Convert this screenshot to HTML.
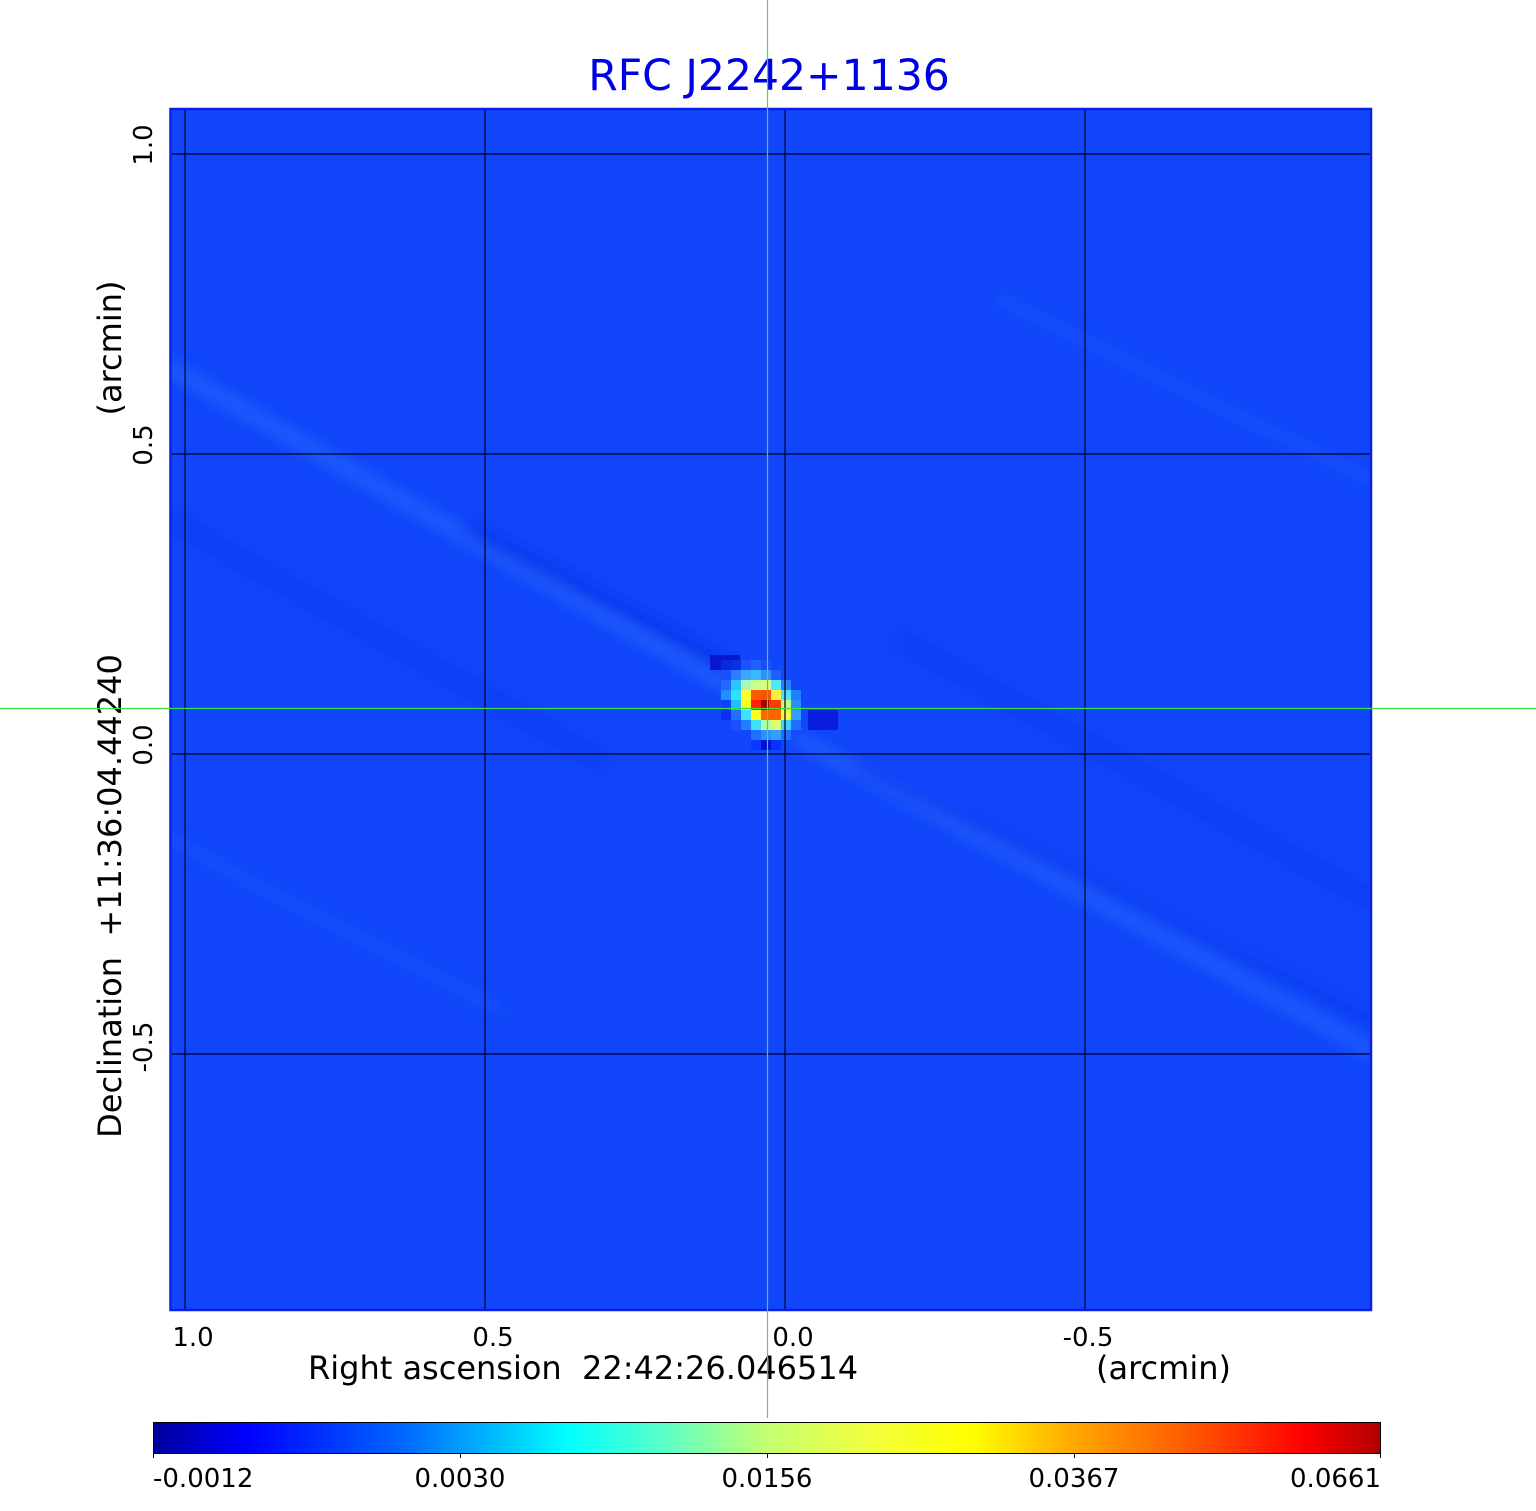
<!DOCTYPE html>
<html>
<head>
<meta charset="utf-8">
<style>
html,body{margin:0;padding:0;background:#fff;}
svg{display:block;}
text{font-family:"DejaVu Sans","Liberation Sans",sans-serif;}
</style>
</head>
<body>
<svg width="1536" height="1511" viewBox="0 0 1536 1511" xmlns="http://www.w3.org/2000/svg">
<defs>
<clipPath id="pc"><rect x="170" y="109" width="1201" height="1201"/></clipPath>
<filter id="bl" x="-10%" y="-10%" width="120%" height="120%"><feGaussianBlur stdDeviation="7"/></filter>
<linearGradient id="cb" x1="0" y1="0" x2="1" y2="0">
<stop offset="0" stop-color="#00009c"/>
<stop offset="0.077" stop-color="#0000ff"/>
<stop offset="0.2" stop-color="#0064ff"/>
<stop offset="0.338" stop-color="#00ffff"/>
<stop offset="0.42" stop-color="#60ffc4"/>
<stop offset="0.5" stop-color="#c4ff70"/>
<stop offset="0.58" stop-color="#f0ff40"/>
<stop offset="0.667" stop-color="#ffff00"/>
<stop offset="0.75" stop-color="#ffa800"/>
<stop offset="0.85" stop-color="#ff5400"/>
<stop offset="0.937" stop-color="#ff0000"/>
<stop offset="1" stop-color="#b00000"/>
</linearGradient>
</defs>

<!-- title -->
<text x="769" y="90" font-size="42.5" fill="#0000e6" text-anchor="middle">RFC J2242+1136</text>

<!-- image -->
<rect x="170" y="109" width="1201" height="1201" fill="rgb(17,70,250)"/>
<g clip-path="url(#pc)">
  <!-- faint sidelobe streaks (soft) -->
  <g stroke-linecap="round" fill="none" filter="url(#bl)">
    <line x1="170" y1="368" x2="735" y2="690" stroke="#2c70ff" stroke-width="16" opacity="0.5"/>
    <line x1="470" y1="530" x2="730" y2="668" stroke="#0a26e0" stroke-width="14" opacity="0.5"/>
    <line x1="800" y1="740" x2="1371" y2="1050" stroke="#2c70ff" stroke-width="16" opacity="0.45"/>
    <line x1="860" y1="770" x2="1371" y2="1020" stroke="#0a28e0" stroke-width="12" opacity="0.3"/>
    <line x1="170" y1="520" x2="600" y2="760" stroke="#0a28e0" stroke-width="14" opacity="0.25"/>
    <line x1="900" y1="640" x2="1371" y2="900" stroke="#0a28e0" stroke-width="14" opacity="0.25"/>
    <line x1="170" y1="840" x2="500" y2="1010" stroke="#2c70ff" stroke-width="14" opacity="0.2"/>
    <line x1="1000" y1="300" x2="1371" y2="480" stroke="#2c70ff" stroke-width="14" opacity="0.2"/>
  </g>
  <!-- dark blobs -->
  <rect x="710" y="655" width="30" height="15" fill="#0818d0"/>
  <rect x="808" y="710" width="30" height="20" fill="#0a1ce0"/>
  <!-- source pixels -->
  <rect x="721" y="660" width="10" height="10" fill="#0a2ae0"/>
  <rect x="731" y="660" width="10" height="10" fill="#0a30e8"/>
  <rect x="741" y="660" width="10" height="10" fill="#1f50ff"/>
  <rect x="751" y="660" width="10" height="10" fill="#2060ff"/>
  <rect x="761" y="660" width="10" height="10" fill="#1c4cff"/>

  <rect x="721" y="670" width="10" height="10" fill="#1650ff"/>
  <rect x="731" y="670" width="10" height="10" fill="#2a80ff"/>
  <rect x="741" y="670" width="10" height="10" fill="#3aa8ff"/>
  <rect x="751" y="670" width="10" height="10" fill="#38b8ff"/>
  <rect x="761" y="670" width="10" height="10" fill="#3090ff"/>
  <rect x="771" y="670" width="10" height="10" fill="#1e60ff"/>

  <rect x="721" y="680" width="10" height="10" fill="#2068ff"/>
  <rect x="731" y="680" width="10" height="10" fill="#28c8ff"/>
  <rect x="741" y="680" width="10" height="10" fill="#a8f8b0"/>
  <rect x="751" y="680" width="10" height="10" fill="#c8ff90"/>
  <rect x="761" y="680" width="10" height="10" fill="#d8ff80"/>
  <rect x="771" y="680" width="10" height="10" fill="#50e8ff"/>
  <rect x="781" y="680" width="10" height="10" fill="#2a80ff"/>

  <rect x="721" y="690" width="10" height="10" fill="#2090ff"/>
  <rect x="731" y="690" width="10" height="10" fill="#30e0ff"/>
  <rect x="741" y="690" width="10" height="10" fill="#ffff30"/>
  <rect x="751" y="690" width="10" height="10" fill="#ff5a00"/>
  <rect x="761" y="690" width="10" height="10" fill="#ff5000"/>
  <rect x="771" y="690" width="10" height="10" fill="#f8f040"/>
  <rect x="781" y="690" width="10" height="10" fill="#50e0ff"/>
  <rect x="791" y="690" width="10" height="10" fill="#2080ff"/>

  <rect x="721" y="700" width="10" height="10" fill="#1040ff"/>
  <rect x="731" y="700" width="10" height="10" fill="#20c0ff"/>
  <rect x="741" y="700" width="10" height="10" fill="#f8ff20"/>
  <rect x="751" y="700" width="10" height="10" fill="#ff2000"/>
  <rect x="761" y="700" width="8" height="10" fill="#a00000"/>
  <rect x="769" y="700" width="12" height="10" fill="#ff3800"/>
  <rect x="781" y="700" width="10" height="10" fill="#c0ff80"/>
  <rect x="791" y="700" width="10" height="10" fill="#2890ff"/>

  <rect x="721" y="710" width="10" height="10" fill="#0a30f0"/>
  <rect x="731" y="710" width="10" height="10" fill="#2070ff"/>
  <rect x="741" y="710" width="10" height="10" fill="#40e0ff"/>
  <rect x="751" y="710" width="10" height="10" fill="#ffff20"/>
  <rect x="761" y="710" width="20" height="10" fill="#ff6400"/>
  <rect x="781" y="710" width="10" height="10" fill="#f0ff40"/>
  <rect x="791" y="710" width="10" height="10" fill="#30a0ff"/>

  <rect x="731" y="720" width="10" height="10" fill="#1c50ff"/>
  <rect x="741" y="720" width="10" height="10" fill="#2080ff"/>
  <rect x="751" y="720" width="10" height="10" fill="#40e0ff"/>
  <rect x="761" y="720" width="10" height="10" fill="#b0ffa0"/>
  <rect x="771" y="720" width="10" height="10" fill="#e0ff70"/>
  <rect x="781" y="720" width="10" height="10" fill="#40d0ff"/>
  <rect x="791" y="720" width="10" height="10" fill="#2070ff"/>

  <rect x="751" y="730" width="10" height="10" fill="#2070ff"/>
  <rect x="761" y="730" width="10" height="10" fill="#2a90ff"/>
  <rect x="771" y="730" width="10" height="10" fill="#30a0ff"/>
  <rect x="781" y="730" width="10" height="10" fill="#2070ff"/>

  <rect x="751" y="740" width="10" height="10" fill="#0a38ff"/>
  <rect x="761" y="740" width="10" height="10" fill="#0010d8"/>
  <rect x="771" y="740" width="10" height="10" fill="#0a30ff"/>

  <!-- grid -->
  <g stroke="#000028" stroke-width="1.2">
    <line x1="185" y1="109" x2="185" y2="1310"/>
    <line x1="485" y1="109" x2="485" y2="1310"/>
    <line x1="785" y1="109" x2="785" y2="1310"/>
    <line x1="1085" y1="109" x2="1085" y2="1310"/>
    <line x1="170" y1="154" x2="1371" y2="154"/>
    <line x1="170" y1="454" x2="1371" y2="454"/>
    <line x1="170" y1="754" x2="1371" y2="754"/>
    <line x1="170" y1="1054" x2="1371" y2="1054"/>
  </g>
</g>
<rect x="170.5" y="109" width="1200.5" height="1201" fill="none" stroke="#0820e8" stroke-width="2.5"/>

<!-- x tick labels -->
<g font-size="26" fill="#000" text-anchor="middle">
  <text x="193" y="1346">1.0</text>
  <text x="493" y="1346">0.5</text>
  <text x="793" y="1346">0.0</text>
  <text x="1088" y="1346">-0.5</text>
</g>
<text x="308" y="1379" font-size="32" fill="#000" style="white-space:pre">Right ascension  22:42:26.046514</text>
<text x="1096" y="1379" font-size="32" fill="#000">(arcmin)</text>

<!-- y tick labels -->
<g font-size="26" fill="#000" text-anchor="middle">
  <text transform="translate(152,145) rotate(-90)">1.0</text>
  <text transform="translate(152,445) rotate(-90)">0.5</text>
  <text transform="translate(152,745) rotate(-90)">0.0</text>
  <text transform="translate(152,1047) rotate(-90)">-0.5</text>
</g>
<text transform="translate(121,896) rotate(-90)" font-size="32" fill="#000" text-anchor="middle" style="white-space:pre">Declination  +11:36:04.44240</text>
<text transform="translate(121,348) rotate(-90)" font-size="32" fill="#000" text-anchor="middle">(arcmin)</text>

<!-- colorbar -->
<rect x="153.5" y="1422.5" width="1227" height="31" fill="url(#cb)" stroke="#000" stroke-width="1"/>
<g stroke="#000" stroke-width="1">
  <line x1="153.5" y1="1453" x2="153.5" y2="1458"/>
  <line x1="460.5" y1="1453" x2="460.5" y2="1458"/>
  <line x1="767.5" y1="1453" x2="767.5" y2="1458"/>
  <line x1="1074.5" y1="1453" x2="1074.5" y2="1458"/>
  <line x1="1380.5" y1="1453" x2="1380.5" y2="1458"/>
</g>
<g font-size="26" fill="#000">
  <text x="153" y="1487">-0.0012</text>
  <text x="460" y="1487" text-anchor="middle">0.0030</text>
  <text x="767" y="1487" text-anchor="middle">0.0156</text>
  <text x="1074" y="1487" text-anchor="middle">0.0367</text>
  <text x="1381" y="1487" text-anchor="end">0.0661</text>
</g>

<!-- green crosshair -->
<line x1="767.5" y1="0" x2="767.5" y2="1418" stroke="#3ee03e" stroke-width="1.2"/>
<line x1="0" y1="708.5" x2="1536" y2="708.5" stroke="#3ee03e" stroke-width="1.2"/>
</svg>
</body>
</html>
